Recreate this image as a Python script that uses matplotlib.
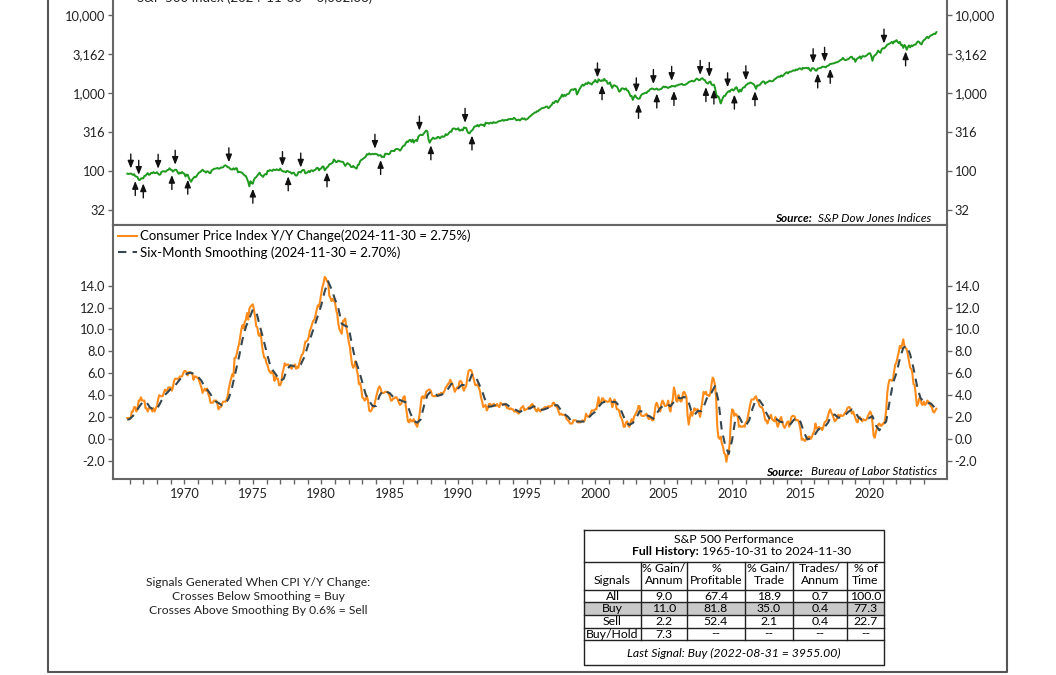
import pandas as pd
import matplotlib.pyplot as plt
import matplotlib.dates as mdates
from matplotlib.ticker import FixedLocator, FixedFormatter, NullLocator

plt.rcParams['font.family'] = ['Lato', 'DejaVu Sans']

# S&P 500 month-end closes, 1965-10 .. 2024-11
sp500 = [
    92.4, 91.6, 92.4,
    92.9, 91.2, 89.2, 91.1, 86.1, 84.7, 83.6, 77.1, 76.6, 80.2, 80.5, 80.3,
    86.6, 86.8, 90.2, 94.0, 89.1, 90.6, 94.8, 93.6, 96.7, 93.9, 94.0, 96.5,
    92.2, 89.4, 90.2, 97.6, 98.7, 99.6, 97.7, 98.9, 102.7, 103.4, 108.4, 103.9,
    103.0, 98.1, 101.5, 103.7, 103.5, 97.7, 91.8, 95.5, 93.1, 97.2, 93.8, 92.1,
    85.0, 89.5, 89.6, 81.5, 76.6, 72.7, 78.1, 81.5, 84.2, 83.3, 87.2, 92.2,
    95.9, 96.8, 100.3, 104.0, 99.6, 98.7, 95.6, 99.0, 98.3, 94.2, 94.0, 102.1,
    103.9, 106.6, 107.2, 107.7, 109.5, 107.1, 107.4, 111.1, 110.6, 111.6, 116.7, 118.1,
    116.0, 111.7, 111.5, 107.0, 105.0, 104.3, 108.2, 104.3, 108.4, 108.3, 96.0, 97.6,
    96.6, 96.2, 94.0, 90.3, 87.3, 86.0, 79.3, 72.2, 63.5, 73.9, 70.0, 68.6,
    77.0, 81.6, 83.4, 87.3, 91.2, 95.2, 88.8, 86.9, 83.9, 89.0, 91.2, 90.2,
    100.9, 99.7, 102.8, 101.6, 100.2, 104.3, 103.4, 102.9, 105.2, 102.9, 102.1, 107.5,
    102.0, 99.8, 98.4, 98.4, 96.1, 100.5, 98.9, 96.8, 96.5, 92.3, 94.8, 95.1,
    89.3, 87.0, 89.2, 96.8, 97.2, 95.5, 100.7, 103.3, 102.5, 93.2, 94.7, 96.1,
    99.9, 96.3, 101.6, 101.8, 99.1, 102.9, 103.8, 109.3, 109.3, 101.8, 106.2, 107.9,
    114.2, 113.7, 102.1, 106.3, 111.2, 114.2, 121.7, 122.4, 125.5, 127.5, 140.5, 135.8,
    129.6, 131.3, 136.0, 132.8, 132.6, 131.2, 130.9, 122.8, 116.2, 121.9, 126.4, 122.6,
    120.4, 113.1, 112.0, 116.4, 111.9, 109.6, 107.1, 119.5, 120.4, 133.7, 138.5, 140.6,
    145.3, 148.1, 153.0, 164.4, 162.4, 168.1, 162.6, 164.4, 166.1, 163.6, 166.4, 164.9,
    163.4, 157.1, 159.2, 160.1, 150.6, 153.2, 150.7, 166.7, 166.1, 166.1, 163.6, 167.2,
    179.6, 181.2, 180.7, 179.8, 189.6, 191.9, 190.9, 188.6, 182.1, 189.8, 202.2, 211.3,
    211.8, 226.9, 238.9, 235.5, 247.4, 250.8, 236.1, 252.9, 231.3, 244.0, 249.2, 242.2,
    274.1, 284.2, 291.7, 288.4, 290.1, 304.0, 318.7, 329.8, 321.8, 251.8, 230.3, 247.1,
    257.1, 267.8, 258.9, 261.3, 262.2, 273.5, 272.0, 261.5, 271.9, 279.0, 273.7, 277.7,
    297.5, 288.9, 294.9, 309.6, 320.5, 318.0, 346.1, 351.5, 349.2, 340.4, 346.0, 353.4,
    329.1, 331.9, 339.9, 330.8, 361.2, 358.0, 356.2, 322.6, 306.1, 304.0, 322.2, 330.2,
    343.9, 367.1, 375.2, 375.4, 389.8, 371.2, 387.8, 395.4, 387.9, 392.5, 375.2, 417.1,
    408.8, 412.7, 403.7, 415.0, 415.4, 408.1, 424.2, 414.0, 417.8, 418.7, 431.4, 435.7,
    438.8, 443.4, 451.7, 440.2, 450.2, 450.5, 448.1, 463.6, 458.9, 467.8, 461.8, 466.5,
    481.6, 467.1, 445.8, 450.9, 456.5, 444.3, 458.3, 475.5, 462.7, 472.4, 453.7, 459.3,
    470.4, 487.4, 500.7, 514.7, 533.4, 544.8, 562.1, 561.9, 584.4, 581.5, 605.4, 615.9,
    636.0, 640.4, 645.5, 654.2, 669.1, 670.6, 640.0, 652.0, 687.3, 705.3, 757.0, 740.7,
    786.2, 790.8, 757.1, 801.3, 848.3, 885.1, 954.3, 899.5, 947.3, 914.6, 955.4, 970.4,
    980, 1049, 1102, 1112, 1091, 1134, 1121, 957, 1017, 1099, 1164, 1229,
    1280, 1238, 1286, 1335, 1302, 1373, 1329, 1320, 1283, 1363, 1389, 1469,
    1394, 1366, 1499, 1452, 1421, 1455, 1431, 1518, 1437, 1429, 1315, 1320,
    1366, 1240, 1160, 1249, 1256, 1224, 1211, 1134, 1041, 1060, 1139, 1148,
    1130, 1107, 1147, 1077, 1067, 990, 912, 916, 815, 886, 936, 880,
    856, 841, 848, 917, 964, 975, 990, 1008, 996, 1051, 1058, 1112,
    1131, 1145, 1126, 1107, 1121, 1141, 1102, 1104, 1115, 1130, 1174, 1212,
    1181, 1204, 1181, 1157, 1192, 1191, 1234, 1220, 1229, 1207, 1249, 1248,
    1280, 1281, 1295, 1311, 1270, 1270, 1277, 1304, 1336, 1378, 1401, 1418,
    1438, 1407, 1421, 1482, 1531, 1503, 1455, 1474, 1527, 1549, 1481, 1468,
    1379, 1331, 1323, 1386, 1400, 1280, 1267, 1283, 1166, 969, 896, 903,
    826, 735, 798, 873, 919, 919, 987, 1021, 1057, 1036, 1096, 1115,
    1074, 1104, 1169, 1187, 1089, 1031, 1102, 1049, 1141, 1183, 1181, 1258,
    1286, 1327, 1326, 1364, 1345, 1321, 1292, 1219, 1131, 1253, 1247, 1258,
    1312, 1366, 1408, 1398, 1310, 1362, 1379, 1407, 1441, 1412, 1416, 1426,
    1498, 1515, 1569, 1598, 1631, 1606, 1686, 1633, 1682, 1757, 1806, 1848,
    1783, 1859, 1872, 1884, 1924, 1960, 1931, 2003, 1972, 2018, 2068, 2059,
    1995, 2105, 2068, 2086, 2107, 2063, 2104, 1972, 1920, 2079, 2080, 2044,
    1940, 1932, 2060, 2065, 2097, 2099, 2174, 2171, 2168, 2126, 2199, 2239,
    2279, 2364, 2363, 2384, 2412, 2423, 2470, 2472, 2519, 2575, 2648, 2674,
    2824, 2714, 2641, 2648, 2705, 2718, 2816, 2902, 2914, 2712, 2760, 2507,
    2704, 2784, 2834, 2946, 2752, 2942, 2980, 2926, 2977, 3038, 3141, 3231,
    3226, 2954, 2585, 2912, 3044, 3100, 3271, 3500, 3363, 3270, 3622, 3756,
    3714, 3811, 3973, 4181, 4204, 4298, 4395, 4523, 4308, 4605, 4567, 4766,
    4516, 4374, 4530, 4132, 4132, 3785, 4130, 3955, 3586, 3872, 4080, 3840,
    4077, 3970, 4109, 4169, 4180, 4450, 4589, 4508, 4288, 4194, 4568, 4770,
    4846, 5096, 5254, 5036, 5278, 5460, 5522, 5648, 5762, 5705, 6032.38,
]

# CPI year-over-year change (%), monthly, 1965-10 .. 2024-11
cpi_yoy = [
    1.9, 1.9, 1.9,
    1.9, 2.5, 2.5, 2.9, 2.9, 2.5, 2.8, 3.5, 3.5, 3.8, 3.5, 3.5,
    3.5, 2.8, 2.8, 2.5, 2.8, 2.8, 2.8, 2.5, 2.8, 2.5, 2.8, 3.0,
    3.6, 4.0, 3.9, 3.9, 3.9, 4.2, 4.5, 4.4, 4.4, 4.7, 4.7, 4.7,
    4.4, 4.7, 5.3, 5.5, 5.5, 5.5, 5.4, 5.7, 5.7, 5.7, 6.0, 6.2,
    6.2, 6.1, 5.8, 6.1, 6.1, 6.0, 6.0, 5.4, 5.7, 5.7, 5.6, 5.6,
    5.3, 5.0, 4.7, 4.2, 4.4, 4.6, 4.4, 4.6, 4.1, 3.8, 3.3, 3.3,
    3.3, 3.5, 3.5, 3.5, 3.2, 2.7, 2.9, 2.9, 3.2, 3.4, 3.4, 3.4,
    3.6, 3.9, 4.6, 5.1, 5.5, 5.9, 5.7, 7.4, 7.4, 7.8, 8.3, 8.7,
    9.4, 10.0, 10.4, 10.1, 10.7, 10.9, 11.5, 10.9, 11.9, 12.1, 12.2, 12.3,
    11.8, 11.2, 10.3, 10.2, 9.5, 9.4, 9.7, 8.6, 7.9, 7.4, 7.4, 6.9,
    6.7, 6.3, 6.1, 6.0, 6.2, 5.9, 5.3, 5.7, 5.5, 5.5, 4.9, 4.9,
    5.2, 6.0, 6.4, 6.9, 6.7, 6.8, 6.8, 6.6, 6.6, 6.4, 6.7, 6.7,
    6.8, 6.4, 6.6, 6.5, 7.0, 7.4, 7.7, 7.8, 8.3, 8.9, 8.9, 9.0,
    9.3, 9.9, 10.1, 10.5, 10.8, 10.9, 11.3, 11.8, 12.2, 12.1, 12.6, 13.3,
    13.9, 14.2, 14.8, 14.7, 14.4, 14.4, 13.1, 12.9, 12.6, 12.8, 12.6, 12.5,
    11.8, 11.4, 10.5, 10.0, 9.8, 9.6, 10.8, 10.8, 11.0, 10.1, 9.6, 8.9,
    8.4, 7.6, 6.8, 6.5, 6.7, 7.1, 6.4, 5.9, 5.0, 5.1, 4.6, 3.8,
    3.7, 3.5, 3.6, 3.9, 3.5, 2.6, 2.5, 2.6, 2.9, 2.9, 3.3, 3.8,
    4.2, 4.6, 4.8, 4.6, 4.2, 4.2, 4.2, 4.3, 4.3, 4.3, 4.1, 3.9,
    3.5, 3.5, 3.7, 3.7, 3.8, 3.8, 3.6, 3.3, 3.1, 3.2, 3.5, 3.8,
    3.9, 3.1, 2.3, 1.6, 1.5, 1.8, 1.6, 1.6, 1.8, 1.5, 1.3, 1.1,
    1.5, 2.1, 3.0, 3.8, 3.9, 3.7, 3.9, 4.3, 4.4, 4.5, 4.5, 4.4,
    4.0, 3.9, 3.9, 3.9, 3.9, 4.0, 4.1, 4.0, 4.2, 4.2, 4.2, 4.4,
    4.7, 4.8, 5.0, 5.1, 5.4, 5.2, 5.0, 4.7, 4.3, 4.5, 4.7, 4.6,
    5.2, 5.3, 5.2, 4.7, 4.4, 4.7, 4.8, 5.6, 6.2, 6.3, 6.3, 6.1,
    5.7, 5.3, 4.9, 4.9, 5.0, 4.7, 4.4, 3.8, 3.4, 2.9, 3.0, 3.1,
    2.6, 2.8, 3.2, 3.2, 3.0, 3.1, 3.2, 3.1, 3.0, 3.2, 3.0, 2.9,
    3.3, 3.2, 3.1, 3.2, 3.2, 3.0, 2.8, 2.8, 2.7, 2.8, 2.7, 2.7,
    2.5, 2.5, 2.5, 2.4, 2.3, 2.5, 2.8, 2.9, 3.0, 2.6, 2.7, 2.7,
    2.8, 2.9, 2.9, 3.1, 3.2, 3.0, 2.8, 2.6, 2.5, 2.8, 2.6, 2.5,
    2.7, 2.7, 2.8, 2.9, 2.9, 2.8, 3.0, 2.9, 3.0, 3.0, 3.3, 3.3,
    3.0, 3.0, 2.8, 2.5, 2.2, 2.3, 2.2, 2.2, 2.2, 2.1, 1.8, 1.7,
    1.6, 1.4, 1.4, 1.4, 1.7, 1.7, 1.7, 1.6, 1.5, 1.5, 1.5, 1.6,
    1.7, 1.6, 1.7, 2.3, 2.1, 2.0, 2.1, 2.3, 2.6, 2.6, 2.6, 2.7,
    2.7, 3.2, 3.8, 3.1, 3.2, 3.7, 3.7, 3.4, 3.5, 3.4, 3.4, 3.4,
    3.7, 3.5, 2.9, 3.3, 3.6, 3.2, 2.7, 2.7, 2.6, 2.1, 1.9, 1.6,
    1.1, 1.1, 1.5, 1.6, 1.2, 1.1, 1.5, 1.8, 1.5, 2.0, 2.2, 2.4,
    2.6, 3.0, 3.0, 2.2, 2.1, 2.1, 2.1, 2.2, 2.3, 2.0, 1.8, 1.9,
    1.9, 1.7, 1.7, 2.3, 3.1, 3.3, 3.0, 2.7, 2.5, 3.2, 3.5, 3.3,
    3.0, 3.0, 3.1, 3.5, 2.8, 2.5, 3.2, 3.6, 4.7, 4.3, 3.5, 3.4,
    4.0, 3.6, 3.4, 3.5, 4.2, 4.3, 4.1, 3.8, 2.1, 1.3, 2.0, 2.5,
    2.1, 2.4, 2.8, 2.6, 2.7, 2.7, 2.4, 2.0, 2.8, 3.5, 4.3, 4.1,
    4.3, 4.0, 4.0, 3.9, 4.2, 5.0, 5.6, 5.4, 4.9, 3.7, 1.1, 0.1,
    0.0, 0.2, -0.4, -0.7, -1.3, -1.4, -2.1, -1.5, -1.3, -0.2, 1.8, 2.7,
    2.6, 2.1, 2.3, 2.2, 2.0, 1.1, 1.2, 1.1, 1.1, 1.2, 1.1, 1.5,
    1.6, 2.1, 2.7, 3.2, 3.6, 3.6, 3.6, 3.8, 3.9, 3.5, 3.4, 3.0,
    2.9, 2.9, 2.7, 2.3, 1.7, 1.7, 1.4, 1.7, 2.0, 2.2, 1.8, 1.7,
    1.6, 2.0, 1.5, 1.1, 1.4, 1.8, 2.0, 1.5, 1.2, 1.0, 1.2, 1.5,
    1.6, 1.1, 1.5, 2.0, 2.1, 2.1, 2.0, 1.7, 1.7, 1.7, 1.3, 0.8,
    -0.1, 0.0, -0.1, -0.2, 0.0, 0.1, 0.2, 0.2, 0.0, 0.2, 0.5, 0.7,
    1.4, 1.0, 0.9, 1.1, 1.0, 1.0, 0.8, 1.1, 1.5, 1.6, 1.7, 2.1,
    2.5, 2.7, 2.4, 2.2, 1.9, 1.6, 1.7, 1.9, 2.2, 2.0, 2.2, 2.1,
    2.1, 2.2, 2.4, 2.5, 2.8, 2.9, 2.9, 2.7, 2.3, 2.5, 2.2, 1.9,
    1.6, 1.5, 1.9, 2.0, 1.8, 1.6, 1.8, 1.7, 1.7, 1.8, 2.1, 2.3,
    2.5, 2.3, 1.5, 0.3, 0.1, 0.6, 1.0, 1.3, 1.4, 1.2, 1.2, 1.4,
    1.4, 1.7, 2.6, 4.2, 5.0, 5.4, 5.4, 5.3, 5.4, 6.2, 6.8, 7.0,
    7.5, 7.9, 8.5, 8.3, 8.6, 9.1, 8.5, 8.3, 8.2, 7.7, 7.1, 6.5,
    6.4, 6.0, 5.0, 4.9, 4.0, 3.0, 3.2, 3.7, 3.7, 3.2, 3.1, 3.4,
    3.1, 3.2, 3.5, 3.4, 3.3, 3.0, 2.9, 2.5, 2.4, 2.6, 2.75,
]

# six-month smoothing, read at quarter ends (plus first and last month)
smooth_yoy = [
    1.75, 1.8,
    2.1, 2.53, 3.02, 3.43,
    3.32, 2.87, 2.7, 2.73,
    3.3, 3.92, 4.22, 4.57,
    4.75, 5.15, 5.55, 5.78,
    6.0, 6.05, 5.88, 5.67,
    5.32, 4.7, 4.38, 3.92,
    3.45, 3.28, 3.07, 3.2,
    3.72, 4.77, 6.17, 7.55,
    9.1, 10.25, 11.0, 11.82,
    11.65, 10.4, 9.22, 7.98,
    6.8, 6.2, 5.77, 5.3,
    5.48, 6.33, 6.73, 6.63,
    6.6, 6.78, 7.45, 8.43,
    9.35, 10.25, 11.25, 12.22,
    13.48, 14.4, 13.68, 12.75,
    11.93, 10.52, 10.33, 10.2,
    8.57, 7.18, 6.27, 5.13,
    4.05, 3.47, 3.0, 3.0,
    3.93, 4.43, 4.3, 4.18,
    3.83, 3.67, 3.55, 3.42,
    3.3, 2.37, 1.65, 1.48,
    1.75, 3.0, 4.0, 4.33,
    4.2, 3.93, 4.02, 4.18,
    4.55, 5.03, 4.95, 4.63,
    4.92, 4.92, 5.07, 5.88,
    5.77, 5.08, 4.37, 3.43,
    2.93, 2.98, 3.1, 3.07,
    3.12, 3.17, 2.95, 2.75,
    2.62, 2.45, 2.65, 2.78,
    2.77, 2.98, 2.87, 2.63,
    2.68, 2.8, 2.92, 3.08,
    3.07, 2.63, 2.27, 2.03,
    1.67, 1.53, 1.6, 1.57,
    1.6, 1.9, 2.23, 2.48,
    2.93, 3.28, 3.43, 3.47,
    3.38, 3.37, 3.02, 2.27,
    1.55, 1.27, 1.45, 1.9,
    2.53, 2.5, 2.17, 2.05,
    1.83, 2.33, 2.82, 3.03,
    3.18, 2.98, 3.38, 3.78,
    3.7, 3.83, 3.67, 2.63,
    2.18, 2.55, 2.53, 3.18,
    4.03, 4.23, 4.83, 3.47,
    0.78, -0.6, -1.38, -0.1,
    1.88, 2.05, 1.45, 1.2,
    1.7, 2.8, 3.62, 3.53,
    3.07, 2.37, 1.8, 1.8,
    1.8, 1.57, 1.5, 1.4,
    1.32, 1.73, 1.93, 1.53,
    0.6, -0.05, 0.05, 0.3,
    0.78, 1.07, 1.08, 1.47,
    2.17, 2.22, 1.92, 2.02,
    2.17, 2.48, 2.68, 2.42,
    1.93, 1.73, 1.77, 1.9,
    2.08, 1.22, 0.78, 1.25,
    1.58, 3.38, 5.12, 6.02,
    7.32, 8.32, 8.5, 7.72,
    6.45, 4.88, 3.75, 3.38,
    3.25, 3.25, 2.92, 2.70,
]

sell_signals = ['1966-01', '1966-08', '1968-01', '1969-04', '1973-03', '1977-02',
                '1978-06', '1983-11', '1987-02', '1990-06', '2000-02', '2002-12',
                '2004-03', '2005-07', '2007-08', '2008-04', '2009-08', '2010-12',
                '2015-11', '2016-09', '2021-01']
buy_signals = ['1966-05', '1966-12', '1969-01', '1970-03', '1974-12', '1977-07',
               '1980-05', '1984-04', '1987-12', '1990-12', '2000-06', '2003-02',
               '2004-06', '2005-09', '2008-01', '2008-08', '2010-02', '2011-08',
               '2016-03', '2017-02', '2022-08']

sp_ticks = [31.62, 100, 316.2, 1000, 3162, 10000]
sp_tick_labels = ['32', '100', '316', '1,000', '3,162', '10,000']
cpi_ticks = [-2, 0, 2, 4, 6, 8, 10, 12, 14]
year_labels = [1970, 1975, 1980, 1985, 1990, 1995, 2000, 2005, 2010, 2015, 2020]
year_minor = list(range(1966, 2025))

table_header = ['Signals', '% Gain/\nAnnum', '%\nProfitable', '% Gain/\nTrade', 'Trades/\nAnnum', '% of\nTime']
table_rows = [
    ['All', '9.0', '67.4', '18.9', '0.7', '100.0'],
    ['Buy', '11.0', '81.8', '35.0', '0.4', '77.3'],
    ['Sell', '2.2', '52.4', '2.1', '0.4', '22.7'],
    ['Buy/Hold', '7.3', '--', '--', '--', '--'],
]

# dates
months = pd.date_range('1965-10-31', periods=len(sp500), freq='ME')
smooth_dates = ([pd.Timestamp('1965-10-31')]
                + list(pd.date_range('1965-12-31', '2024-09-30', freq='QE'))
                + [pd.Timestamp('2024-11-30')])
sp = pd.Series(sp500, index=months.to_period('M'))

W, H = 1056, 675
fig = plt.figure(figsize=(W / 100, H / 100), dpi=100)


def fx(px):
    return px / W


def fy(py):
    return 1 - py / H


spine_col = '#666666'
ax1 = fig.add_axes([fx(113), fy(225), fx(947) - fx(113), fy(-24) - fy(225)])
ax2 = fig.add_axes([fx(113), fy(479), fx(947) - fx(113), fy(225) - fy(479)], sharex=ax1)

# top panel: S&P 500
ax1.plot(months, sp500, color='#1e9a1e', lw=1.4)
ax1.set_yscale('log')
ax1.set_ylim(20.3, 31623)
ax1.yaxis.set_major_locator(FixedLocator(sp_ticks))
ax1.yaxis.set_major_formatter(FixedFormatter(sp_tick_labels))
ax1.yaxis.set_minor_locator(NullLocator())

arrow_kw = dict(arrowstyle='-|>,head_length=0.45,head_width=0.18', color='#111111',
                lw=1.0, shrinkA=0, shrinkB=3.6, mutation_scale=10)
for d in sell_signals:
    p = pd.Period(d, 'M')
    ax1.annotate('', xy=(p.to_timestamp(how='end'), sp[p]), xytext=(0, 14),
                 textcoords='offset points', arrowprops=arrow_kw)
for d in buy_signals:
    p = pd.Period(d, 'M')
    ax1.annotate('', xy=(p.to_timestamp(how='end'), sp[p]), xytext=(0, -14),
                 textcoords='offset points', arrowprops=arrow_kw)

# bottom panel: CPI
ax2.plot(months, cpi_yoy, color='#ff8c1a', lw=1.5,
         label='Consumer Price Index Y/Y Change(2024-11-30 = 2.75%)')
ax2.plot(smooth_dates, smooth_yoy, color='#37474f', lw=1.5, dashes=(4, 3),
         label='Six-Month Smoothing (2024-11-30 = 2.70%)')
ax2.set_ylim(-3.67, 19.55)
ax2.yaxis.set_major_locator(FixedLocator(cpi_ticks))
ax2.yaxis.set_major_formatter(FixedFormatter(['%.1f' % v for v in cpi_ticks]))
ax2.legend(loc='upper left', bbox_to_anchor=(0, 1), frameon=False, fontsize=9.5,
           handlelength=1.45, handletextpad=0.25, borderaxespad=0.0, borderpad=0.35,
           labelspacing=0.3)

ax2.set_xlim(pd.Timestamp('1964-10-15'), pd.Timestamp('2025-09-09'))
ax2.xaxis.set_major_locator(FixedLocator(mdates.date2num([pd.Timestamp(y, 1, 1) for y in year_labels])))
ax2.xaxis.set_major_formatter(FixedFormatter([str(y) for y in year_labels]))
ax2.xaxis.set_minor_locator(FixedLocator(mdates.date2num([pd.Timestamp(y, 1, 1) for y in year_minor])))

for ax in (ax1, ax2):
    for s in ax.spines.values():
        s.set_color(spine_col)
        s.set_linewidth(1.5)
    ax.tick_params(axis='y', which='both', left=True, right=True, labelleft=True,
                   labelright=True, direction='out', length=3.5, width=1,
                   color=spine_col, labelsize=9.3, pad=2, labelcolor='#222222')
ax1.tick_params(axis='x', which='both', bottom=False, labelbottom=False)
ax2.tick_params(axis='x', which='both', direction='out', length=3.5, width=1,
                color=spine_col, labelsize=9.3, pad=3, labelcolor='#222222')

# overlay in pixel coordinates for frame, notes and table
ov = fig.add_axes([0, 0, 1, 1])
ov.set_xlim(0, W)
ov.set_ylim(H, 0)
ov.axis('off')

ov.plot([48, 48, 1007, 1007], [-10, 672, 672, -10], color='#555555', lw=1.5, clip_on=False)

ov.text(137, 1.5, 'S&P 500 Index (2024-11-30 = 6,032.38)', fontsize=9.5, va='baseline',
        ha='left', color='#222222')

ov.text(775, 218, 'Source:', fontsize=8.5, style='italic', weight='bold', va='center', ha='left')
ov.text(818, 218, 'S&P Dow Jones Indices', fontsize=8.5, style='italic', va='center', ha='left')
ov.text(766, 472, 'Source:', fontsize=8.5, style='italic', weight='bold', va='center', ha='left')
ov.text(811, 472, 'Bureau of Labor Statistics', fontsize=8.5, style='italic', va='center', ha='left')

notes = ['Signals Generated When CPI Y/Y Change:',
         'Crosses Below Smoothing = Buy',
         'Crosses Above Smoothing By 0.6% = Sell']
for i, line in enumerate(notes):
    ov.text(258, 583 + 14 * i, line, fontsize=8.7, ha='center', va='center', color='#222222')

# performance table
tx0, tx1 = 584, 884
col_edges = [584, 641, 687, 745, 793, 847, 884]
row_edges = [590, 602, 615, 628, 640]
ov.fill_between([tx0, tx1], 602, 615, color='#c9c9c9', lw=0)
ov.plot([tx0, tx1, tx1, tx0, tx0], [530, 530, 665, 665, 530], color='#222222', lw=1)
for yy in [562] + row_edges:
    ov.plot([tx0, tx1], [yy, yy], color='#222222', lw=1)
for xx in col_edges[1:-1]:
    ov.plot([xx, xx], [562, 640], color='#222222', lw=1)

tfs = 8.8
ov.text(734, 539.5, 'S&P 500 Performance', fontsize=tfs, ha='center', va='center')
ov.text(699, 551.5, 'Full History:', fontsize=tfs, weight='bold', ha='right', va='center')
ov.text(702, 551.5, '1965-10-31 to 2024-11-30', fontsize=tfs, ha='left', va='center')
centers = [(a + b) / 2 for a, b in zip(col_edges[:-1], col_edges[1:])]
for c, h in zip(centers, table_header):
    parts = h.split('\n')
    if len(parts) == 1:
        ov.text(c, 580, parts[0], fontsize=tfs, ha='center', va='center')
    else:
        ov.text(c, 568.5, parts[0], fontsize=tfs, ha='center', va='center')
        ov.text(c, 580.5, parts[1], fontsize=tfs, ha='center', va='center')
for r, row in enumerate(table_rows):
    yc = (row_edges[r] + row_edges[r + 1]) / 2
    for c, val in zip(centers, row):
        ov.text(c, yc, val, fontsize=tfs, ha='center', va='center')
ov.text(734, 653, 'Last Signal: Buy (2022-08-31 = 3955.00)', fontsize=tfs, style='italic',
        ha='center', va='center')

fig.savefig('out.png', dpi=100)
